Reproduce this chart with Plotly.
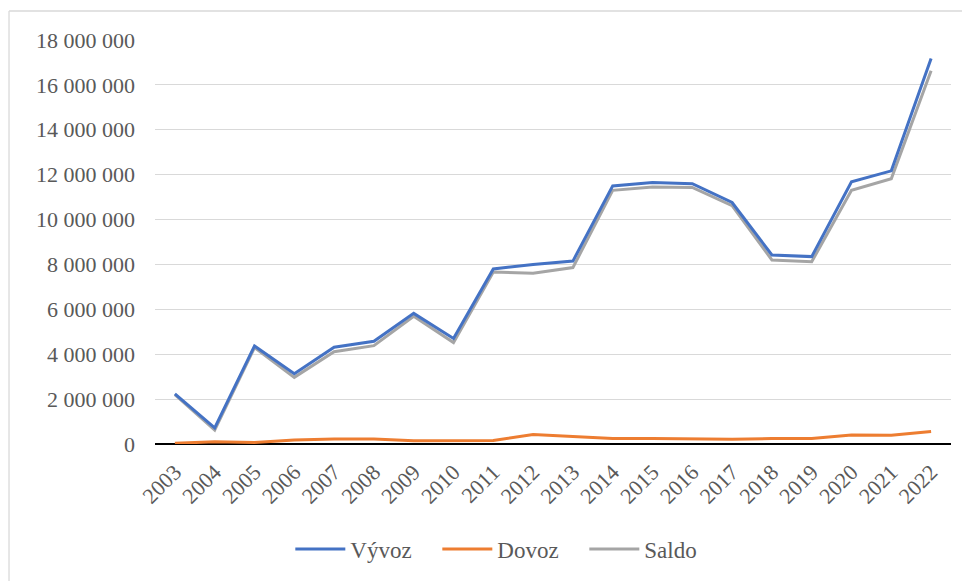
import plotly.graph_objects as go

years = [str(y) for y in range(2003, 2023)]
vyvoz = [2230000, 720000, 4370000, 3130000, 4310000, 4580000, 5820000, 4700000, 7800000, 8000000,
         8150000, 11500000, 11650000, 11600000, 10760000, 8420000, 8350000, 11680000, 12170000, 17180000]
dovoz = [30000, 100000, 70000, 180000, 220000, 220000, 150000, 160000, 160000, 420000,
         330000, 240000, 240000, 210000, 210000, 240000, 250000, 400000, 390000, 560000]
saldo = [2200000, 620000, 4300000, 2970000, 4110000, 4380000, 5690000, 4520000, 7660000, 7610000,
         7860000, 11300000, 11450000, 11430000, 10620000, 8200000, 8120000, 11300000, 11820000, 16630000]
y_ticks = [0, 2000000, 4000000, 6000000, 8000000, 10000000, 12000000, 14000000, 16000000, 18000000]

fig = go.Figure()
fig.add_trace(go.Scatter(x=years, y=saldo, name="Saldo", mode="lines",
                         line=dict(color="#A5A5A5", width=3), legendrank=3))
fig.add_trace(go.Scatter(x=years, y=vyvoz, name="Vývoz", mode="lines",
                         line=dict(color="#4472C4", width=3), legendrank=1))
fig.add_trace(go.Scatter(x=years, y=dovoz, name="Dovoz", mode="lines",
                         line=dict(color="#ED7D31", width=3), legendrank=2))

font_fam = "Liberation Serif, Times New Roman, serif"
fig.update_layout(
    width=970, height=581,
    margin=dict(l=147, r=27, t=32, b=145),
    paper_bgcolor="white", plot_bgcolor="white",
    separators=", ",
    font=dict(family=font_fam, size=22, color="#595959"),
    showlegend=True,
    legend=dict(orientation="h", x=0.17, xanchor="left", y=-0.26, yanchor="middle",
                font=dict(family=font_fam, size=23, color="#595959"),
                itemwidth=50, entrywidth=82, entrywidthmode="pixels",
                tracegroupgap=0, traceorder="normal"),
    xaxis=dict(type="category", range=[-0.5, 19.5], showgrid=False, tickangle=-45,
               ticks="", showline=False, ticklabelstandoff=10,
               tickfont=dict(family=font_fam, size=22, color="#595959")),
    yaxis=dict(range=[0, 18000000], tickvals=y_ticks, tickformat=",d", showgrid=True,
               gridcolor="#D9D9D9", gridwidth=1.3, zeroline=True, zerolinecolor="black",
               zerolinewidth=1.5, ticks="", showline=False, ticklabelstandoff=19,
               tickfont=dict(family=font_fam, size=22, color="#595959")),
    shapes=[
        dict(type="line", xref="paper", yref="paper", x0=-0.1834, x1=1.1, y0=1.0718, y1=1.0718,
             line=dict(color="#D9D9D9", width=1.3)),
        dict(type="line", xref="paper", yref="paper", x0=-0.1834, x1=-0.1834, y0=1.0718, y1=-0.5,
             line=dict(color="#D9D9D9", width=1.3)),
    ],
)
fig.write_html("out.html")
